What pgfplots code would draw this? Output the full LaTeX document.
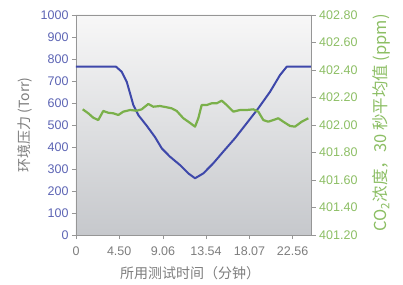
\documentclass[border=0pt]{standalone}
\usepackage{fontspec}
\setmainfont{Liberation Sans}
\newfontfamily\cjk{Noto Sans CJK SC}
\usepackage{pgfplots}
\pgfplotsset{compat=1.18}
\definecolor{pblue}{RGB}{62,72,170}
\definecolor{pgreen}{RGB}{122,176,74}
\definecolor{lblue}{RGB}{92,100,180}
\definecolor{lgreen}{RGB}{140,190,100}
\definecolor{tgrey}{RGB}{125,125,125}
\definecolor{agrey}{RGB}{150,150,150}
\definecolor{bgbot}{RGB}{198,200,204}
\begin{document}
\begin{tikzpicture}
\begin{axis}[
  width=235.7pt, height=220pt, scale only axis,
  xmin=0, xmax=24.55, ymin=0, ymax=1000,
  xtick={0,4.5,9.06,13.54,18.07,22.56},
  xticklabels={0,4.50,9.06,13.54,18.07,22.56},
  ytick={0,100,...,1000},
  xtick pos=bottom, ytick pos=left,
  tick align=outside, major tick length=4pt,
  axis line style={agrey, line width=0.8pt},
  tick style={agrey, line width=0.8pt},
  /pgf/number format/assume math mode=true,
  /pgf/number format/1000 sep={},
  yticklabel style={font=\fontsize{12.5}{14}\selectfont, text=lblue},
  xticklabel style={font=\fontsize{12.5}{14}\selectfont, text=tgrey, yshift=-4pt},
  axis background/.style={shade, top color=white!97!black, bottom color=bgbot},
  xlabel={\cjk 所用测试时间（分钟）},
  xlabel style={at={(rel axis cs:0.484,0)}, anchor=center, yshift=-38pt, font=\fontsize{14}{16}\selectfont, text=tgrey},
  ylabel={\cjk 环境压力\ (Torr)},
  every axis y label/.style={at={(rel axis cs:0,0.5)}, anchor=center, xshift=-51pt, rotate=90, font=\fontsize{14}{16}\selectfont, text=tgrey},
]
\coordinate (bl) at (rel axis cs:0,0);
\coordinate (tr) at (rel axis cs:1,1);
\addplot[pblue, line width=2pt, line join=round] coordinates {
(0,765) (4.17,765) (4.76,742) (5.28,697) (5.63,644) (5.97,591) (6.49,545)
(7.36,497) (8.23,445) (8.93,394) (9.79,356) (10.83,318) (11.70,280) (12.40,258)
(13.26,280) (14.30,326) (15.34,379) (16.56,440) (17.78,508) (18.99,576)
(20.21,651) (21.25,727) (21.95,765) (24.55,765)
};
\end{axis}
\begin{axis}[
  width=235.7pt, height=220pt, scale only axis,
  xmin=0, xmax=24.55, ymin=401.2, ymax=402.8,
  axis x line=none, axis y line*=right,
  ytick={401.2,401.4,...,402.8},
  tick align=outside, major tick length=4pt,
  axis line style={agrey, line width=0.8pt},
  tick style={agrey, line width=0.8pt},
  /pgf/number format/assume math mode=true,
  yticklabel style={font=\fontsize{12.5}{14}\selectfont, text=lgreen, /pgf/number format/.cd, fixed, fixed zerofill, precision=2},
  ylabel={\cjk CO\textsubscript{2}浓度，30 秒平均值 (ppm)},
  every axis y label/.style={at={(rel axis cs:1,0.51)}, anchor=center, xshift=70pt, rotate=90, font=\fontsize{16.5}{18}\selectfont, text=lgreen},
]
\addplot[pgreen, line width=2.2pt, line join=round] coordinates {
(0.70,402.114) (1.28,402.085) (1.80,402.053) (2.32,402.036) (2.84,402.102)
(3.36,402.089) (3.89,402.085) (4.41,402.073) (4.93,402.097) (5.63,402.109)
(6.32,402.104) (6.84,402.114) (7.53,402.153) (8.05,402.133) (8.75,402.138)
(9.45,402.129) (9.97,402.121) (10.49,402.102) (11.18,402.049) (11.70,402.024)
(12.40,401.988) (12.74,402.049) (13.09,402.145) (13.61,402.145) (14.14,402.158)
(14.66,402.158) (15.18,402.177) (15.70,402.145) (16.39,402.097) (17.08,402.109)
(17.78,402.109) (18.47,402.114) (18.99,402.097) (19.51,402.036) (20.03,402.024)
(20.55,402.036) (21.07,402.049) (21.59,402.024) (22.29,401.993) (22.81,401.988)
(23.51,402.024) (24.20,402.049)
};
\end{axis}
\pgfresetboundingbox
\path[use as bounding box] ([shift={(-76pt,-49pt)}]bl) rectangle ([shift={(91.3pt,15pt)}]tr);
\end{tikzpicture}
\end{document}
